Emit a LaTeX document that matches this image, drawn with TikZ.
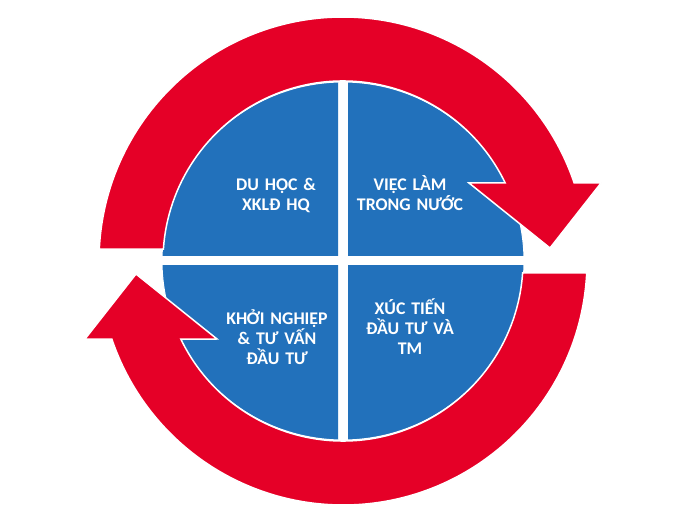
\documentclass[tikz,border=0pt]{standalone}
\usepackage{fontspec}
\setmainfont{Carlito}
\usetikzlibrary{calc}

\definecolor{quadblue}{HTML}{2271BB}
\definecolor{arrowred}{HTML}{E50027}

\tikzset{
	quad/.style={fill=quadblue, draw=white, line width=1pt},
	cyclearrow/.style={fill=arrowred, draw=white, line width=1.5pt, line join=miter},
	quadtext/.style={text=white, font=\bfseries\fontsize{17.8}{20}\selectfont, align=center, text width=140pt, anchor=base, inner sep=0pt}
}

\begin{document}
\begin{tikzpicture}[x=1pt, y=1pt]

		\useasboundingbox (0,0) rectangle (695,522);
		\coordinate (C) at (343, 261);

		% four blue quarters
		\foreach \sx/\sy in {1/1, -1/1, -1/-1, 1/-1} {
			\begin{scope}
				\clip ($(C)+(\sx*5,\sy*5)$) rectangle ($(C)+(\sx*200,\sy*200)$);
				\path[quad] (C) circle[x radius=181, y radius=179];
			\end{scope}
		}

		% two red arrows round the circle
		\foreach \rot in {0, 180} {
			\begin{scope}[shift={(C)}, rotate=\rot]
				\path[cyclearrow] (177.2:244) arc[start angle=177.2, end angle=18.7, radius=244]
					-- (258,78) -- (207,13) -- (126,78) -- (25.7:180)
					arc[start angle=25.7, end angle=176.2, radius=180] -- cycle;
			\end{scope}
		}

		\node[quadtext] (duhoc) at ($(C)+(-67,70)$) {DU HỌC \&\\XKLĐ HQ};
		\node[quadtext] (vieclam) at ($(C)+(67,70)$) {VIỆC LÀM\\TRONG NƯỚC};
		\node[quadtext] (khoinghiep) at ($(C)+(-66,-64)$) {KHỞI NGHIỆP\\\& TƯ VẤN\\ĐẦU TƯ};
		\node[quadtext] (xuctien) at ($(C)+(67,-54)$) {XÚC TIẾN\\ĐẦU TƯ VÀ\\TM};

	\end{tikzpicture}
\end{document}
